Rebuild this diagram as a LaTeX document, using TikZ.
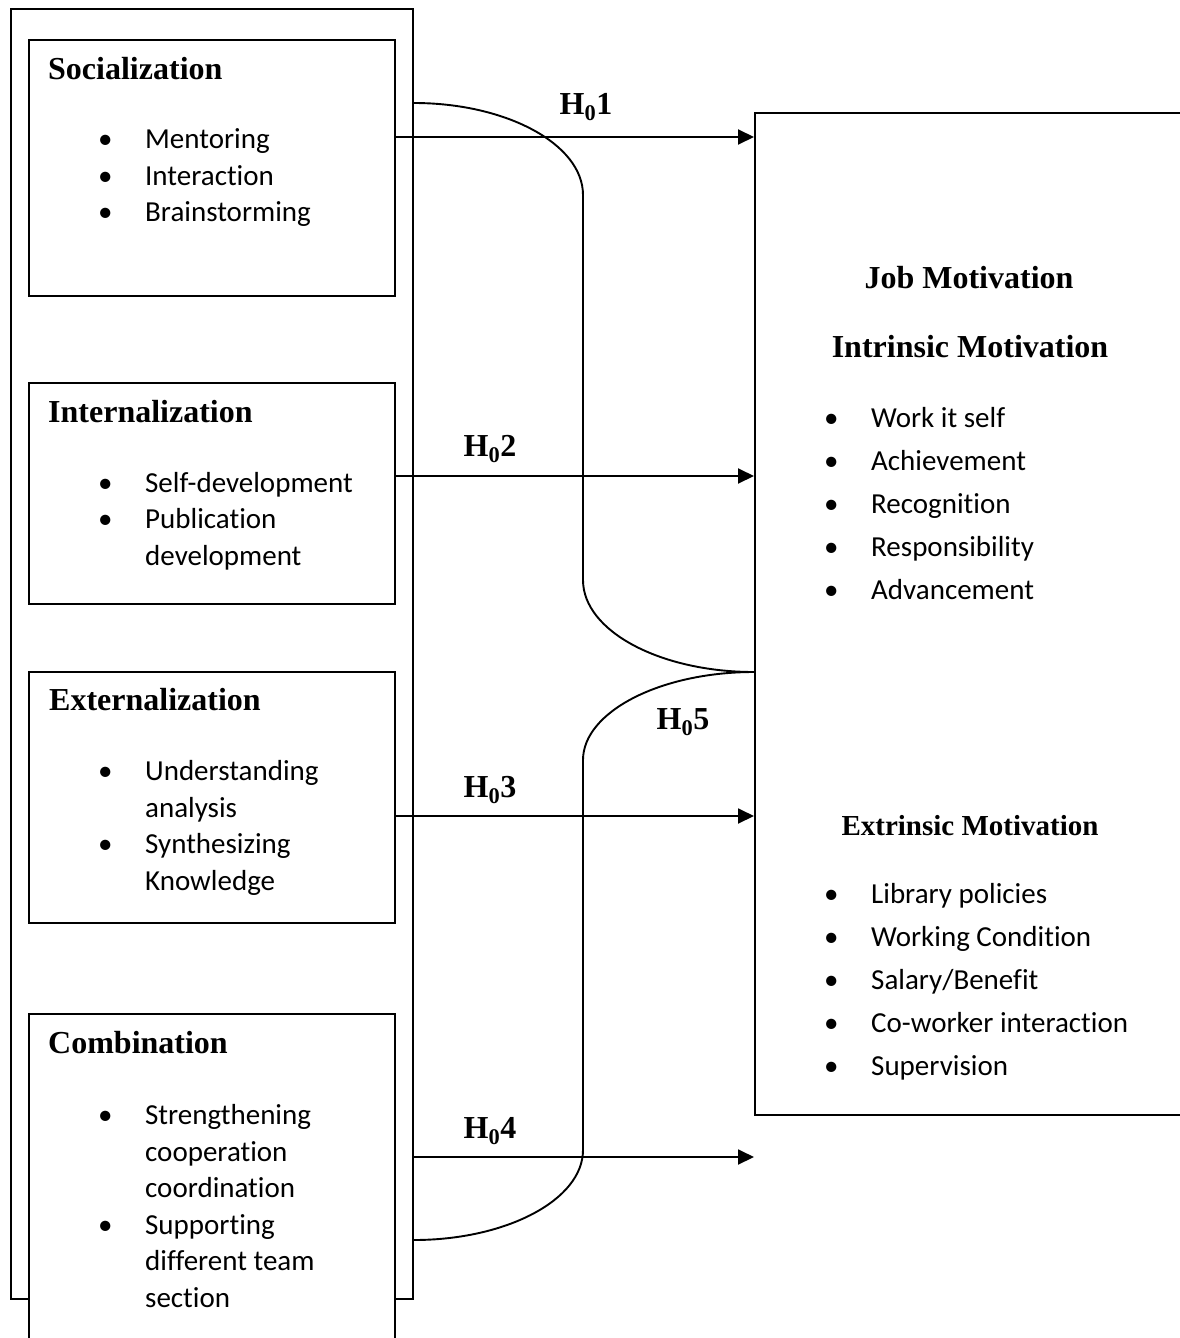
\documentclass[tikz,border=0pt]{standalone}
\usepackage{fontspec}
\setmainfont{Liberation Serif}
\newfontfamily\bodyfont[Ligatures=NoCommon]{Carlito}
\usetikzlibrary{arrows.meta}
\tikzset{
  kbox/.style={
    draw=black, line width=2pt, fill=white,
    anchor=north west, inner sep=0pt
  },
  ktitle/.style={font=\fontsize{32}{36}\selectfont\bfseries, anchor=west, inner sep=0pt},
  kmain/.style={font=\fontsize{32}{36}\selectfont\bfseries, inner sep=0pt},
  klist/.style={font=\bodyfont\fontsize{29}{36.5}\selectfont, align=left, anchor=west, inner sep=0pt},
  rlist/.style={klist, font=\bodyfont\fontsize{29}{43}\selectfont},
  hlab/.style={font=\fontsize{32}{36}\selectfont\bfseries, inner sep=0pt},
  arr/.style={-{Triangle[length=16pt,width=15pt]}, line width=1.9pt},
  link/.style={line width=1.9pt}
}
\newcommand{\itm}[1]{\makebox[47pt][l]{•}#1}
\newcommand{\cnt}[1]{\hspace*{47pt}#1}

\begin{document}
\begin{tikzpicture}[x=1pt, y=-1pt]
  \useasboundingbox (0,0) rectangle (1180,1338);
  \clip (0,0) rectangle (1180,1338);
  % knowledge modes
  \node[kbox, minimum width=402pt, minimum height=1290pt] (frame) at (10,8) {};
  \node[kbox, minimum width=366pt, minimum height=256pt] (soc) at (28,39) {};
  \node[kbox, minimum width=366pt, minimum height=221pt] (int) at (28,382) {};
  \node[kbox, minimum width=366pt, minimum height=251pt] (ext) at (28,671) {};
  \node[kbox, minimum width=366pt, minimum height=360pt] (com) at (28,1013) {};
  \node[ktitle] (soct) at (48,69) {Socialization};
  \node[ktitle] (intt) at (48,412) {Internalization};
  \node[ktitle] (extt) at (49,700) {Externalization};
  \node[ktitle] (comt) at (48,1043) {Combination};
  \node[klist] (socl) at (98,178) {\itm{Mentoring}\\ \itm{Interaction}\\ \itm{Brainstorming}};
  \node[klist] (intl) at (98,521) {\itm{Self-development}\\ \itm{Publication}\\ \cnt{development}};
  \node[klist] (extl) at (98,828) {\itm{Understanding}\\ \cnt{analysis}\\ \itm{Synthesizing}\\ \cnt{Knowledge}};
  \node[klist] (coml) at (98,1206) {\itm{Strengthening}\\ \cnt{cooperation}\\ \cnt{coordination}\\
    \itm{Supporting}\\ \cnt{different team}\\ \cnt{section}};
  % job motivation
  \node[kbox, minimum width=460pt, minimum height=1002pt] (jm) at (754,112) {};
  \node[kmain] (jmt) at (969,278) {Job Motivation};
  \node[kmain] (intr) at (970,347) {Intrinsic Motivation};
  \node[kmain, font=\fontsize{29}{33}\selectfont\bfseries] (extr) at (970,826) {Extrinsic Motivation};
  \node[rlist] (intrl) at (824,503.5) {\itm{Work it self}\\ \itm{Achievement}\\ \itm{Recognition}\\
    \itm{Responsibility}\\ \itm{Advancement}};
  \node[rlist] (extrl) at (824,981.5) {\itm{Library policies}\\ \itm{Working Condition}\\ \itm{Salary/Benefit}\\
    \itm{Co-worker interaction}\\ \itm{Supervision}};
  % hypotheses
  \foreach \s/\y in {soc/137,int/476,ext/816,frame/1157}
    \draw[arr] (\s.east |- 0,\y) -- (jm.west |- 0,\y);
  \draw[link] (frame.east |- 0,103) .. controls (506,103) and (583,144) .. (583,195)
    -- (583,580) .. controls (583,631) and (660,672) .. (jm.west |- 0,672);
  \draw[link] (jm.west |- 0,672) .. controls (660,672) and (583,712) .. (583,760)
    -- (583,1150) .. controls (583,1200) and (506,1240) .. (frame.east |- 0,1240);
  \node[hlab] (h1) at (586,107) {H\textsubscript{0}1};
  \node[hlab] (h2) at (490,449) {H\textsubscript{0}2};
  \node[hlab] (h3) at (490,790) {H\textsubscript{0}3};
  \node[hlab] (h4) at (490,1131) {H\textsubscript{0}4};
  \node[hlab] (h5) at (683,722) {H\textsubscript{0}5};
\end{tikzpicture}
\end{document}
